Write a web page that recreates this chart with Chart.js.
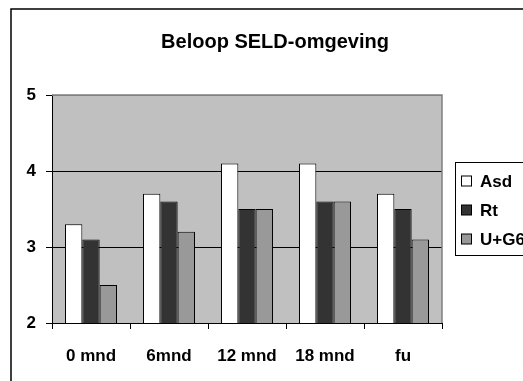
<!DOCTYPE html>
<html>
<head>
<meta charset="utf-8">
<script src="https://cdn.jsdelivr.net/npm/chart.js@4/dist/chart.umd.min.js"></script>
<style>
    html, body { margin: 0; padding: 0; background: #fff; overflow: hidden; }
    #wrap { position: relative; width: 550px; height: 381px; }
</style>
</head>
<body>
<div id="wrap"><canvas id="seldChart" width="550" height="381"></canvas></div>
<script>
const categories = ["0 mnd", "6mnd", "12 mnd", "18 mnd", "fu"];
const asdValues = [3.3, 3.7, 4.1, 4.1, 3.7];
const rtValues = [3.1, 3.6, 3.5, 3.6, 3.5];
const ugValues = [2.5, 3.2, 3.5, 3.6, 3.1];
const seriesLabels = ["Asd", "Rt", "U+G6"];
const yTicks = [2, 3, 4, 5];

const FONT = "'Liberation Sans', Arial, sans-serif";

/**
 * Frame, grey plot background and hand drawn legend box
 */
const framePlugin = {
    id: "frame",
    beforeDraw(chart) {
        const c = chart.ctx;
        const a = chart.chartArea;
        c.save();
        c.fillStyle = "#fff";
        c.fillRect(0, 0, chart.width, chart.height);
        c.strokeStyle = "#000";
        c.lineWidth = 1.5;
        c.strokeRect(11, 9, 528, 400);
        c.fillStyle = "#c0c0c0";
        c.fillRect(a.left, a.top, a.right - a.left, a.bottom - a.top);
        c.restore();
    },
    afterDatasetsDraw(chart) {
        const c = chart.ctx;
        const a = chart.chartArea;
        c.save();
        // grey top + right edge of the plot
        c.strokeStyle = "#808080";
        c.lineWidth = 1.5;
        c.beginPath();
        c.moveTo(a.left, a.top);
        c.lineTo(a.right, a.top);
        c.lineTo(a.right, a.bottom);
        c.stroke();
        c.restore();
    },
    afterDraw(chart) {
        const c = chart.ctx;
        c.save();
        c.fillStyle = "#fff";
        c.strokeStyle = "#000";
        c.lineWidth = 1;
        c.fillRect(455.5, 162.5, 120, 93);
        c.strokeRect(455.5, 162.5, 120, 93);
        const rows = [181, 210, 239];
        chart.data.datasets.forEach((ds, i) => {
            c.fillStyle = ds.backgroundColor;
            c.fillRect(461.5, rows[i] - 5, 10, 10);
            c.strokeRect(461.5, rows[i] - 5, 10, 10);
            c.fillStyle = "#000";
            c.font = "bold 17px " + FONT;
            c.textBaseline = "middle";
            c.fillText(ds.label, 480, rows[i] + 1);
        });
        c.restore();
    }
};

function makeDataset(label, data, color) {
    return {
        label: label,
        data: data,
        backgroundColor: color,
        borderColor: "#000",
        borderWidth: 1,
        borderSkipped: "bottom",
        categoryPercentage: 0.667,
        barPercentage: 1.0
    };
}

new Chart(document.getElementById("seldChart"), {
    type: "bar",
    data: {
        labels: categories,
        datasets: [
            makeDataset(seriesLabels[0], asdValues, "#ffffff"),
            makeDataset(seriesLabels[1], rtValues, "#333333"),
            makeDataset(seriesLabels[2], ugValues, "#999999")
        ]
    },
    options: {
        responsive: false,
        animation: false,
        devicePixelRatio: 1,
        layout: { padding: 0 },
        plugins: {
            legend: { display: false },
            tooltip: { enabled: false },
            title: {
                display: true,
                text: "Beloop SELD-omgeving",
                color: "#000",
                font: { family: FONT, size: 20, weight: "bold", lineHeight: 1.2 },
                padding: { top: 30, bottom: 41 }
            }
        },
        scales: {
            x: {
                afterFit(scale) { scale.height = 58; },
                grid: {
                    drawOnChartArea: false,
                    drawTicks: true,
                    tickLength: 6,
                    tickColor: "#000",
                    offset: true
                },
                border: { color: "#000", width: 1 },
                ticks: {
                    color: "#000",
                    padding: 17,
                    font: { family: FONT, size: 17, weight: "bold" }
                }
            },
            y: {
                min: 2,
                max: 5,
                afterFit(scale) { scale.width = 52; },
                afterBuildTicks(scale) { scale.ticks = yTicks.map(v => ({ value: v })); },
                grid: {
                    color: ctx => (ctx.tick && ctx.tick.value === 5 ? "#808080" : "#000"),
                    tickColor: "#000",
                    tickLength: 6,
                    lineWidth: 1
                },
                border: { color: "#000", width: 1 },
                ticks: {
                    color: "#000",
                    padding: 10,
                    font: { family: FONT, size: 17, weight: "bold" }
                }
            },
            // empty right axis that keeps room for the legend box
            legendSpace: {
                type: "linear",
                position: "right",
                min: 2,
                max: 5,
                afterFit(scale) { scale.width = 108; },
                grid: { display: false },
                border: { display: false },
                ticks: { display: false }
            }
        }
    },
    plugins: [framePlugin]
});
</script>
</body>
</html>
